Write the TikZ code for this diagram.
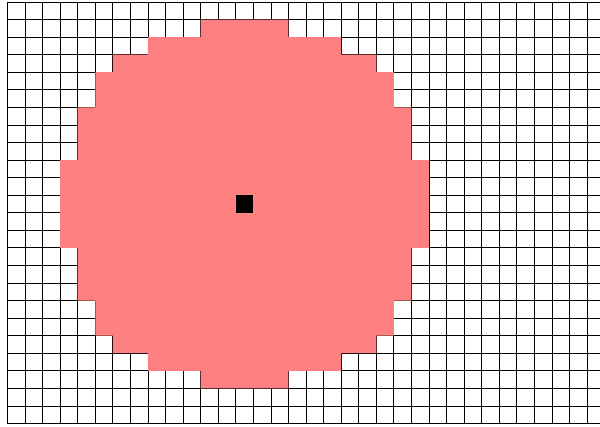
\documentclass[tikz,border=0pt]{standalone}
\usepackage{tikz}

\begin{document}
\begin{tikzpicture}[x=0.5cm, y=-0.5cm,
  gridline/.style={black, line width=0.6pt},
  disc/.style={fill=red!50},
  centre/.style={fill=black}]
% frame of the picture (grid runs off the right edge)
\useasboundingbox (-0.427,-0.114) rectangle (33.74,24.15);
\clip (-0.427,-0.114) rectangle (33.74,24.15);
% cell grid
\foreach \c in {0,...,34} { \draw[gridline] (\c,0) -- (\c,24); }
\foreach \r in {0,...,24} { \draw[gridline] (0,\r) -- (34,\r); }
% filled disc around the centre cell (13,11): row offset / half width
\fill[disc] \foreach \d/\w in {0/10,1/10,2/10,3/9,4/9,5/9,6/8,7/8,8/7,9/5,10/2} {
  (13-\w,11-\d) rectangle (14+\w,12-\d)
  (13-\w,11+\d) rectangle (14+\w,12+\d)
};
% centre cell
\fill[centre] (13,11) rectangle (14,12);
\end{tikzpicture}
\end{document}
